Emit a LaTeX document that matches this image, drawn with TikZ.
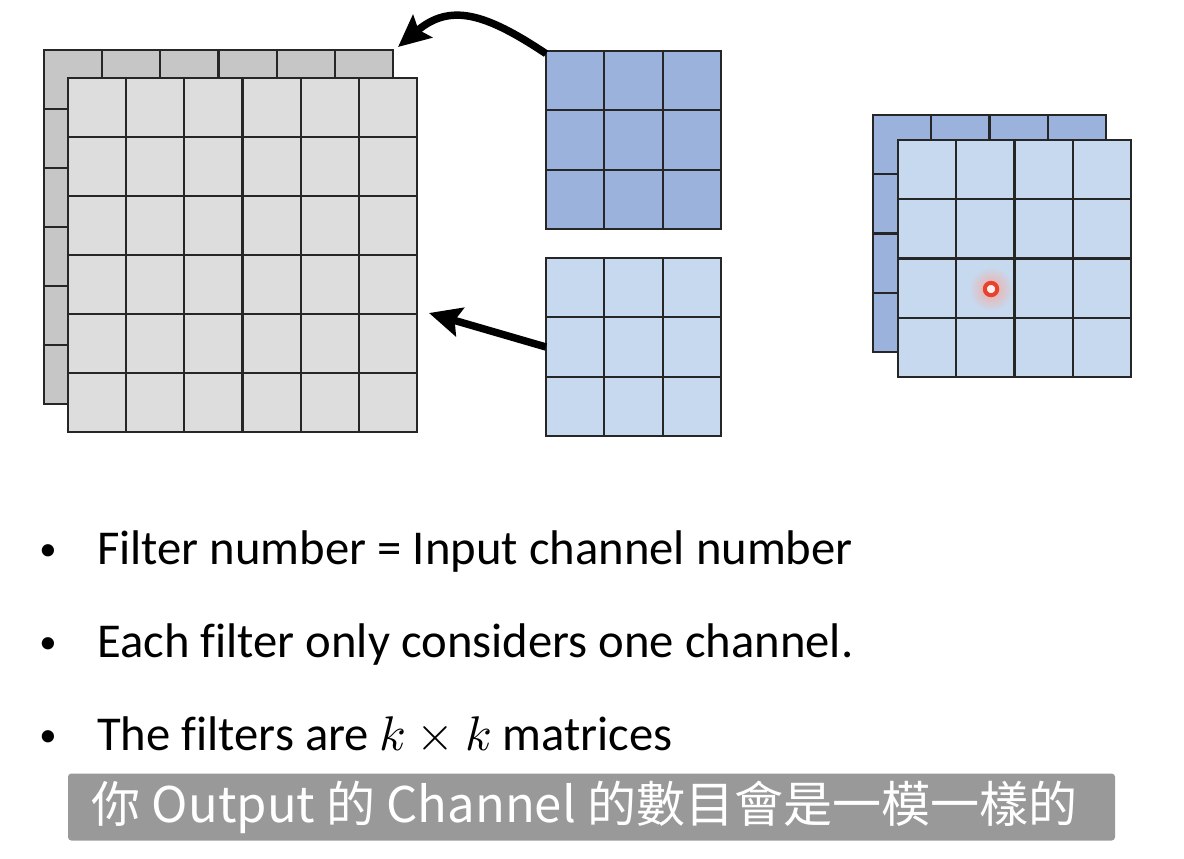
\documentclass[tikz,border=0pt]{standalone}
\usepackage{fontspec}
\usepackage{unicode-math}
\setmainfont{Carlito}[Ligatures=CommonOff]
\newfontfamily\cjk{Noto Sans CJK TC}
\usetikzlibrary{arrows.meta}

\tikzset{
  gridline/.style={line width=1.6pt, draw=black!85},
  cellbox/.style={draw=black!85, line width=1.6pt, inner sep=0pt, outer sep=0pt, anchor=north west},
  bigarrow/.style={line width=5.6pt, -{Stealth[length=24pt,width=22pt,inset=4pt]}},
  bullettext/.style={anchor=base west, inner sep=0pt, font=\fontsize{36.5}{40}\selectfont},
  subbox/.style={fill=subgray, rounded corners=2.5pt, text=white, inner sep=0pt,
    minimum width=785.25pt, minimum height=50.25pt, font=\cjk\fontsize{36.8}{44}\selectfont}
}

\begin{document}
\begin{tikzpicture}[x=0.75pt,y=-0.75pt]
  \definecolor{backgray}{HTML}{C6C6C6}
  \definecolor{frontgray}{HTML}{DDDDDD}
  \definecolor{darkfilt}{HTML}{9BB2DC}
  \definecolor{lightfilt}{HTML}{C6D9EE}
  \definecolor{subgray}{HTML}{999999}
  \definecolor{dotred}{HTML}{E8412C}
  \useasboundingbox (0,0) rectangle (1184,858);
  % input channels, 6x6
  \foreach \ox/\oy/\col/\nm in {44/50/backgray/inback, 68/78/frontgray/infront} {
    \node[cellbox, fill=\col, minimum width=261.75pt, minimum height=265.5pt] (\nm) at (\ox,\oy) {};
    \foreach \i in {1,...,5}
      \draw[gridline] (\ox+\i*58.17,\oy) -- ++(0,354) (\ox,\oy+\i*59) -- ++(349,0);
  }
  % filters, 3x3
  \foreach \oy/\col/\nm in {51/darkfilt/kdark, 258/lightfilt/klight} {
    \node[cellbox, fill=\col, minimum width=131.25pt, minimum height=133.5pt] (\nm) at (546,\oy) {};
    \foreach \i in {1,2}
      \draw[gridline] (546+\i*58.33,\oy) -- ++(0,178) (546,\oy+\i*59.33) -- ++(175,0);
  }
  % output channels, 4x4
  \foreach \ox/\oy/\col/\nm in {873/115/darkfilt/outback, 898/140/lightfilt/outfront} {
    \node[cellbox, fill=\col, minimum width=174.75pt, minimum height=177.75pt] (\nm) at (\ox,\oy) {};
    \foreach \i in {1,2,3}
      \draw[gridline] (\ox+\i*58.25,\oy) -- ++(0,237) (\ox,\oy+\i*59.25) -- ++(233,0);
  }
  \shade[inner color=dotred!45!white, outer color=lightfilt] (991,289) circle (22);
  \draw[dotred, line width=3pt, fill=dotred!8!white] (991,289) circle (6.2);
  % arrows
  \coordinate (tipback) at (398,47);
  \coordinate (tipfront) at (429,313);
  \draw[bigarrow] ([yshift=-2pt]kdark.north west) .. controls (485,13) and (450,3) .. (tipback);
  \draw[bigarrow] (klight.west) -- (tipfront);
  % bullets
  \node[bullettext] (b1) at (97,564) {Filter number = Input channel number};
  \node[bullettext] (b2) at (97,657) {Each filter only considers one channel.};
  \node[bullettext] (b3) at (97,750) {The filters are $k \times k$ matrices};
  \foreach \nm in {b1,b2,b3}
    \node[bullettext, anchor=base, font=\fontsize{26}{30}\selectfont] (\nm dot)
      at ([xshift=-36.75pt]\nm.base west) {\raisebox{3pt}{•}};
  \node[subbox] (sub) at (591.5,807) {\kern-10pt 你 Output 的 Channel 的數目會是一模一樣的};
\end{tikzpicture}
\end{document}
